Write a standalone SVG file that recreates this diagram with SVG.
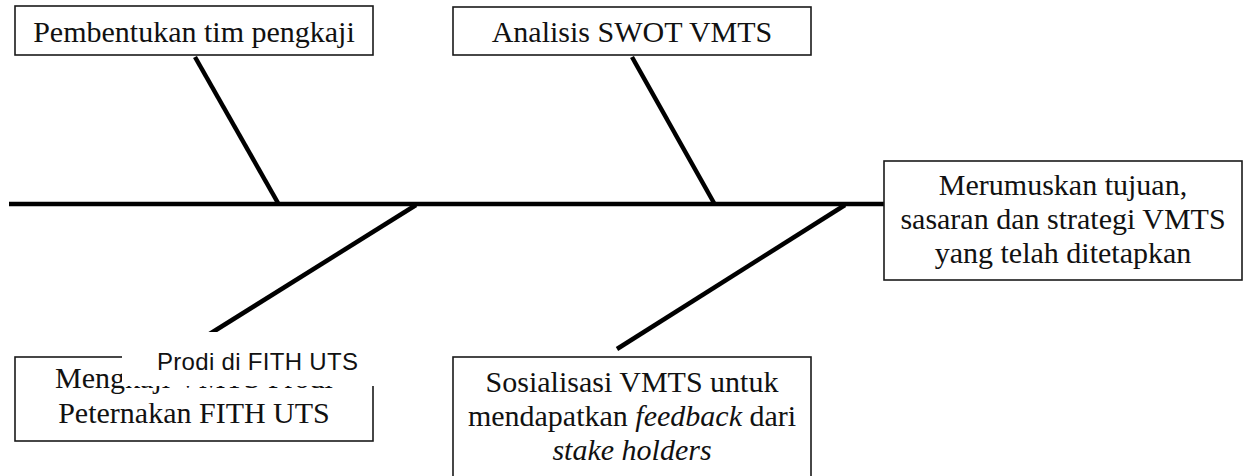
<svg xmlns="http://www.w3.org/2000/svg" width="1243" height="476" viewBox="0 0 1243 476">
<style>
.box{fill:#fff;stroke:#1a1a1a;stroke-width:1.6}
.t{font-family:"Liberation Serif","Times New Roman",serif;font-size:30px;fill:#111;text-anchor:middle}
.i{font-style:italic}
.ln{stroke:#000;stroke-width:4.5;fill:none}
.ov{font-family:"Liberation Sans",Arial,sans-serif;font-size:24px;fill:#111}
</style>
<rect width="1243" height="476" fill="#fff"/>
<g id="connectors">
<line class="ln" x1="9" y1="204" x2="884" y2="204"/>
<line class="ln" x1="195" y1="57" x2="278" y2="203"/>
<line class="ln" x1="632" y1="57" x2="714" y2="203"/>
<line class="ln" x1="416" y1="205" x2="200" y2="340"/>
<line class="ln" x1="845" y1="205" x2="617" y2="349"/>
</g>
<g id="n1">
<rect class="box" x="15" y="6" width="358" height="49"/>
<text class="t" x="194" y="42">Pembentukan tim pengkaji</text>
</g>
<g id="n2">
<rect class="box" x="453" y="7" width="358" height="48"/>
<text class="t" x="632" y="42">Analisis SWOT VMTS</text>
</g>
<g id="n3">
<rect class="box" x="884" y="161" width="358" height="119"/>
<text class="t" x="1063" y="195">Merumuskan tujuan,</text>
<text class="t" x="1063" y="229">sasaran dan strategi VMTS</text>
<text class="t" x="1063" y="263">yang telah ditetapkan</text>
</g>
<g id="n4">
<rect class="box" x="15" y="357" width="358" height="84"/>
<text class="t" x="194" y="388">Mengkaji VMTS Prodi</text>
<text class="t" x="194" y="423">Peternakan FITH UTS</text>
<rect x="122" y="332" width="256" height="54" fill="#fff"/>
<text class="ov" x="157" y="370" textLength="201" lengthAdjust="spacing">Prodi di FITH UTS</text>
</g>
<g id="n5">
<rect class="box" x="453" y="357" width="358" height="125"/>
<text class="t" x="632" y="392">Sosialisasi VMTS untuk</text>
<text class="t" x="632" y="426">mendapatkan <tspan class="i">feedback</tspan> dari</text>
<text class="t i" x="632" y="460">stake holders</text>
</g>
</svg>
